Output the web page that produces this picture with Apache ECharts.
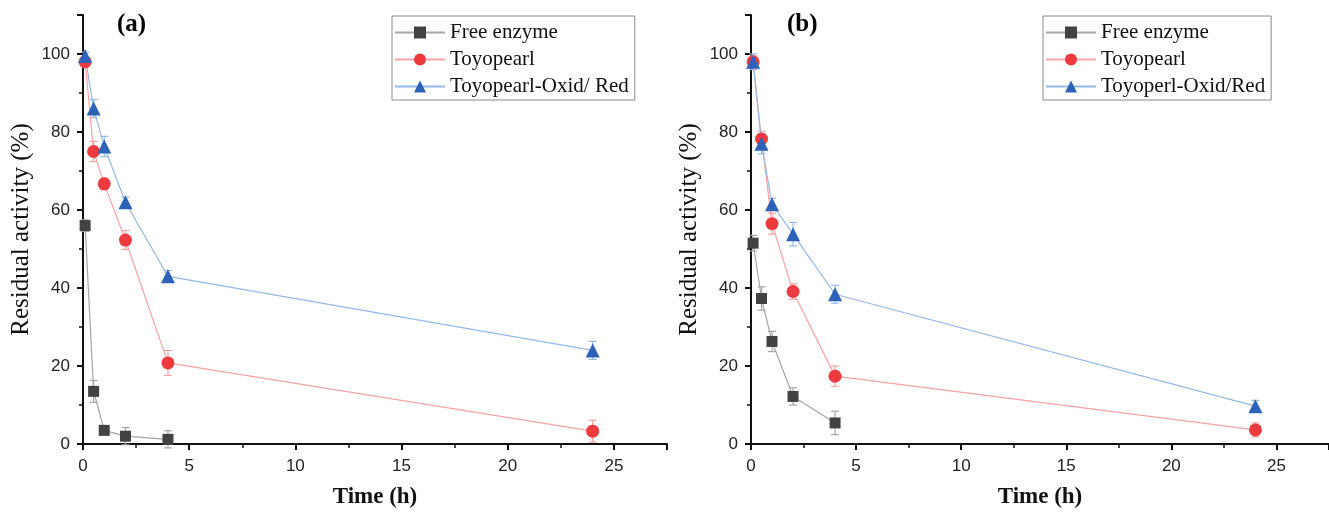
<!DOCTYPE html>
<html>
<head>
<meta charset="utf-8">
<script src="https://cdn.jsdelivr.net/npm/echarts@6/dist/echarts.min.js"></script>
<style>
  html, body { margin: 0; padding: 0; background: #fff; }
  #chart { width: 1329px; height: 515px; }
</style>
</head>
<body>
<div id="chart"></div>
<script>
// sampling times (h)
var timesFree = [0.1, 0.5, 1, 2, 4];
var timesImm = [0.1, 0.5, 1, 2, 4, 24];

// panel (a)
var freeA = [56, 13.5, 3.5, 2, 1.2];
var freeAErr = [1.5, 2.8, 1, 2.2, 2.2];
var toyoA = [98, 75, 66.7, 52.3, 20.8, 3.3];
var toyoAErr = [1, 2.6, 1.5, 2.4, 3.2, 2.8];
var oxidA = [99.5, 86, 76.3, 62, 43, 24];
var oxidAErr = [1, 2.3, 2.6, 1.3, 1.5, 2.3];

// panel (b)
var freeB = [51.5, 37.3, 26.3, 12.2, 5.4];
var freeBErr = [2, 3, 2.6, 2.2, 3];
var toyoB = [98, 78.2, 56.5, 39.1, 17.4, 3.6];
var toyoBErr = [1.5, 2, 2.7, 2, 2.6, 1.8];
var oxidB = [98, 77, 61.5, 53.8, 38.4, 9.7];
var oxidBErr = [2, 2.6, 1.5, 3, 2.3, 1.5];

var legendA = ['Free enzyme', 'Toyopearl', 'Toyopearl-Oxid/ Red'];
var legendB = ['Free enzyme', 'Toyopearl', 'Toyoperl-Oxid/Red'];

var styles = [
  { symbol: 'rect', size: 11, fill: '#424242', line: '#a6a6a6' },
  { symbol: 'circle', size: 13, fill: '#ec3a3f', line: '#f5a3a5' },
  { symbol: 'triangle', size: 14, fill: '#2d62b8', line: '#94b8e8' }
];

const zip = (xs, ys) => ys.map((y, i) => [xs[i], y]);
const errData = (xs, ys, es) => ys.map((y, i) => [xs[i], y - es[i], y + es[i]]);

const lineSeries = (name, xs, ys, st, idx) => ({
  name: name, type: 'line', xAxisIndex: idx, yAxisIndex: idx,
  data: zip(xs, ys), symbol: st.symbol, symbolSize: st.size, clip: false,
  lineStyle: { color: st.line, width: 1.2 },
  itemStyle: { color: st.fill },
  emphasis: { disabled: true }, z: 3
});

const errSeries = (xs, ys, es, st, idx) => ({
  type: 'custom', xAxisIndex: idx, yAxisIndex: idx, silent: true, z: 2, clip: false,
  data: errData(xs, ys, es),
  encode: { x: 0, y: [1, 2] },
  renderItem: function (params, api) {
    var x = api.value(0);
    var p1 = api.coord([x, api.value(1)]);
    var p2 = api.coord([x, api.value(2)]);
    var w = 4;
    var s = { stroke: st.line, lineWidth: 1.2 };
    return { type: 'group', children: [
      { type: 'line', shape: { x1: p1[0], y1: p1[1], x2: p2[0], y2: p2[1] }, style: s },
      { type: 'line', shape: { x1: p1[0] - w, y1: p1[1], x2: p1[0] + w, y2: p1[1] }, style: s },
      { type: 'line', shape: { x1: p2[0] - w, y1: p2[1], x2: p2[0] + w, y2: p2[1] }, style: s }
    ]};
  }
});

const xAxisCfg = (idx) => ({
  gridIndex: idx, type: 'value', min: 0, max: 27.5, interval: 5,
  axisLine: { show: true, onZero: false, lineStyle: { color: '#111', width: 2 } },
  axisTick: { length: 6, lineStyle: { color: '#111', width: 2 } },
  minorTick: { show: true, splitNumber: 2, length: 4, lineStyle: { color: '#111', width: 1.5 } },
  splitLine: { show: false },
  axisLabel: { showMaxLabel: false, fontFamily: 'Liberation Sans', fontSize: 17, color: '#222', margin: 14 },
  name: 'Time (h)', nameLocation: 'middle', nameGap: 42,
  nameTextStyle: { fontFamily: 'Liberation Serif', fontWeight: 'bold', fontSize: 23, color: '#111' }
});

const yAxisCfg = (idx) => ({
  gridIndex: idx, type: 'value', min: 0, max: 110, interval: 20,
  axisLine: { show: true, onZero: false, lineStyle: { color: '#111', width: 2 } },
  axisTick: { length: 6, lineStyle: { color: '#111', width: 2 } },
  minorTick: { show: true, splitNumber: 2, length: 4, lineStyle: { color: '#111', width: 1.5 } },
  splitLine: { show: false },
  axisLabel: { showMaxLabel: false, fontFamily: 'Liberation Sans', fontSize: 17, color: '#222', margin: 13 },
  name: 'Residual activity (%)', nameLocation: 'middle', nameGap: 49,
  nameTextStyle: { fontFamily: 'Liberation Serif', fontSize: 25, color: '#111' }
});

const legendCfg = (names, left, width) => ({
  data: names, orient: 'vertical', left: left, top: 16, width: width,
  itemWidth: 50, itemHeight: 15, itemGap: 6,
  borderColor: '#8a8a8a', borderWidth: 1, borderRadius: 0, padding: [6, 6, 3, 2],
  textStyle: { fontFamily: 'Liberation Serif', fontSize: 21, color: '#111', lineHeight: 21 },
  selectedMode: false
});

var chart = echarts.init(document.getElementById('chart'));
chart.setOption({
  animation: false,
  backgroundColor: '#fff',
  grid: [
    { left: 83, top: 15, width: 584, height: 429 },
    { left: 751, top: 15, width: 584, height: 429 }
  ],
  xAxis: [xAxisCfg(0), xAxisCfg(1)],
  yAxis: [yAxisCfg(0), yAxisCfg(1)],
  legend: [legendCfg(legendA, 392, 243), legendCfg(legendB, 1043, 229)],
  graphic: [
    { type: 'text', left: 117, top: 12, style: { text: '(a)', font: 'bold 25px "Liberation Serif"', fill: '#000' } },
    { type: 'text', left: 787, top: 12, style: { text: '(b)', font: 'bold 25px "Liberation Serif"', fill: '#000' } }
  ],
  series: [
    errSeries(timesFree, freeA, freeAErr, styles[0], 0),
    errSeries(timesImm, toyoA, toyoAErr, styles[1], 0),
    errSeries(timesImm, oxidA, oxidAErr, styles[2], 0),
    lineSeries(legendA[0], timesFree, freeA, styles[0], 0),
    lineSeries(legendA[1], timesImm, toyoA, styles[1], 0),
    lineSeries(legendA[2], timesImm, oxidA, styles[2], 0),
    errSeries(timesFree, freeB, freeBErr, styles[0], 1),
    errSeries(timesImm, toyoB, toyoBErr, styles[1], 1),
    errSeries(timesImm, oxidB, oxidBErr, styles[2], 1),
    lineSeries(legendB[0], timesFree, freeB, styles[0], 1),
    lineSeries(legendB[1], timesImm, toyoB, styles[1], 1),
    lineSeries(legendB[2], timesImm, oxidB, styles[2], 1)
  ]
});
</script>
</body>
</html>
